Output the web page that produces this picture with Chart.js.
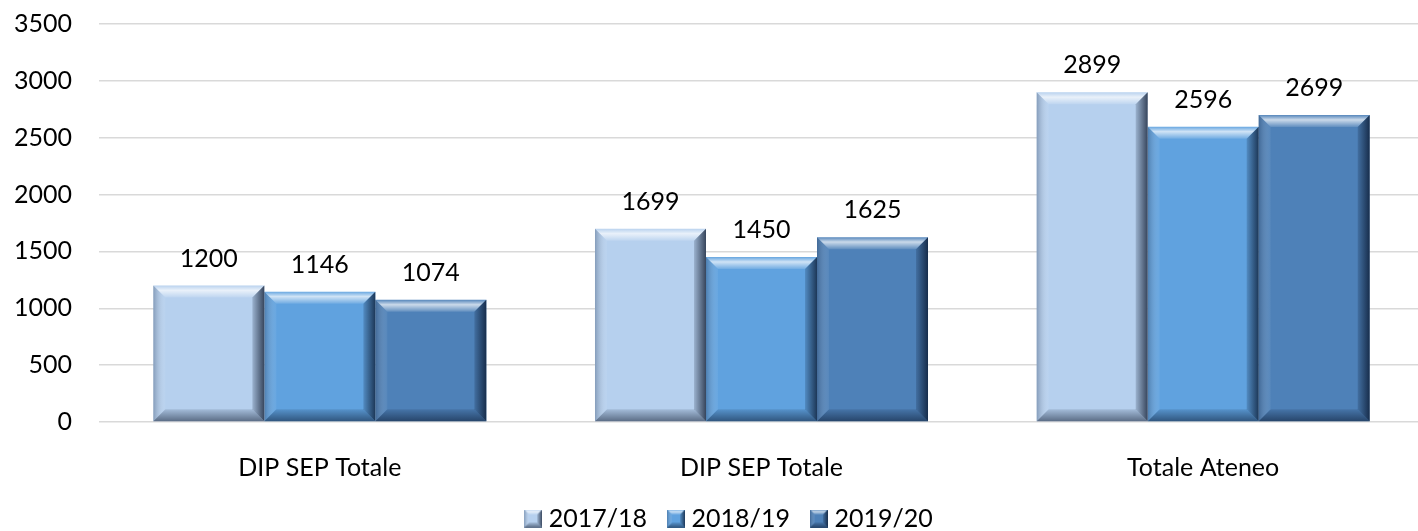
<!DOCTYPE html>
<html lang="en">
<head>
    <meta charset="UTF-8">
    <title>DIP SEP Totale</title>
    <script src="https://cdn.jsdelivr.net/npm/chart.js"></script>
    <style>
        html, body { margin: 0; padding: 0; background: #fff; overflow: hidden; }
        #wrap { width: 1418px; height: 531px; overflow: hidden; }
    </style>
</head>
<body>
    <div id="wrap">
        <canvas id="barChart" width="1424" height="541"></canvas>
    </div>

    <script>
        // chart data
        const categories = ['DIP SEP Totale', 'DIP SEP Totale', 'Totale Ateneo'];
        const seriesNames = ['2017/18', '2018/19', '2019/20'];
        const values1718 = [1200, 1699, 2899];
        const values1819 = [1146, 1450, 2596];
        const values1920 = [1074, 1625, 2699];
        const yTicks = [0, 500, 1000, 1500, 2000, 2500, 3000, 3500];

        const colors = ['#B6D0EE', '#60A2DF', '#4E81B8'];

        // paints the bevel over a rectangle
        function bevel(ctx, l, t, r, b, size) {
            const s = Math.min(size, (r - l) / 2, (b - t) / 2);
            let g;

            // top edge
            g = ctx.createLinearGradient(0, t, 0, t + s);
            g.addColorStop(0, 'rgba(255,255,255,0.05)');
            g.addColorStop(0.4, 'rgba(255,255,255,0.7)');
            g.addColorStop(1, 'rgba(255,255,255,0.1)');
            ctx.fillStyle = g;
            ctx.beginPath();
            ctx.moveTo(l, t); ctx.lineTo(r, t); ctx.lineTo(r - s, t + s); ctx.lineTo(l + s, t + s);
            ctx.closePath(); ctx.fill();

            // left edge
            g = ctx.createLinearGradient(l, 0, l + s, 0);
            g.addColorStop(0, 'rgba(40,60,90,0.35)');
            g.addColorStop(1, 'rgba(255,255,255,0.05)');
            ctx.fillStyle = g;
            ctx.beginPath();
            ctx.moveTo(l, t); ctx.lineTo(l + s, t + s); ctx.lineTo(l + s, b - s); ctx.lineTo(l, b);
            ctx.closePath(); ctx.fill();

            // right edge
            g = ctx.createLinearGradient(r - s, 0, r, 0);
            g.addColorStop(0, 'rgba(0,10,30,0.15)');
            g.addColorStop(1, 'rgba(0,10,30,0.7)');
            ctx.fillStyle = g;
            ctx.beginPath();
            ctx.moveTo(r, t); ctx.lineTo(r, b); ctx.lineTo(r - s, b - s); ctx.lineTo(r - s, t + s);
            ctx.closePath(); ctx.fill();

            // bottom edge
            g = ctx.createLinearGradient(0, b - s, 0, b);
            g.addColorStop(0, 'rgba(0,10,30,0.1)');
            g.addColorStop(1, 'rgba(0,10,30,0.5)');
            ctx.fillStyle = g;
            ctx.beginPath();
            ctx.moveTo(l, b); ctx.lineTo(l + s, b - s); ctx.lineTo(r - s, b - s); ctx.lineTo(r, b);
            ctx.closePath(); ctx.fill();
        }

        // small beveled squares for the legend
        function legendBox(color) {
            const c = document.createElement('canvas');
            c.width = 18; c.height = 18;
            const x = c.getContext('2d');
            x.fillStyle = color;
            x.fillRect(0, 0, 18, 18);
            bevel(x, 0, 0, 18, 18, 5);
            return c;
        }

        const bevelPlugin = {
            id: 'bevel',
            afterDatasetsDraw(chart) {
                const ctx = chart.ctx;
                ctx.save();
                chart.data.datasets.forEach((ds, i) => {
                    chart.getDatasetMeta(i).data.forEach(el => {
                        const p = el.getProps(['x', 'y', 'base', 'width'], true);
                        bevel(ctx, p.x - p.width / 2, p.y, p.x + p.width / 2, p.base, 12);
                    });
                });
                ctx.restore();
            }
        };

        const valueLabels = {
            id: 'valueLabels',
            afterDatasetsDraw(chart) {
                const ctx = chart.ctx;
                ctx.save();
                ctx.font = '25px Lato, "Open Sans", sans-serif';
                ctx.fillStyle = '#000';
                ctx.textAlign = 'center';
                ctx.textBaseline = 'alphabetic';
                chart.data.datasets.forEach((ds, i) => {
                    chart.getDatasetMeta(i).data.forEach((el, j) => {
                        const p = el.getProps(['x', 'y'], true);
                        ctx.fillText(ds.data[j], p.x, p.y - 19);
                    });
                });
                ctx.restore();
            }
        };

        // nudge the legend a little to the left, like the original
        const legendShift = {
            id: 'legendShift',
            afterLayout(chart) {
                chart.legend.left -= 30;
                chart.legend.right -= 30;
            }
        };

        Chart.defaults.font.family = 'Lato, "Open Sans", sans-serif';
        Chart.defaults.font.size = 25;
        Chart.defaults.color = '#000';

        const allValues = [values1718, values1819, values1920];

        const ctx = document.getElementById('barChart').getContext('2d');
        const chart = new Chart(ctx, {
            type: 'bar',
            data: {
                labels: categories,
                datasets: seriesNames.map((name, i) => ({
                    label: name,
                    data: allValues[i],
                    backgroundColor: colors[i],
                    borderWidth: 0,
                    pointStyle: legendBox(colors[i]),
                    categoryPercentage: 0.754,
                    barPercentage: 1.0
                }))
            },
            options: {
                responsive: false,
                animation: false,
                layout: { padding: { top: 24, left: 0, right: 0, bottom: 0 } },
                plugins: {
                    tooltip: { enabled: false },
                    legend: {
                        position: 'bottom',
                        fullSize: false,
                        labels: {
                            usePointStyle: true,
                            pointStyleWidth: 6,
                            boxHeight: 18,
                            padding: 26,
                            font: { size: 25 }
                        }
                    }
                },
                scales: {
                    x: {
                        grid: { display: false },
                        border: { display: false },
                        ticks: { padding: 23 },
                        afterFit: s => { s.height = 58; }
                    },
                    y: {
                        min: 0,
                        max: 3500,
                        afterBuildTicks: s => { s.ticks = yTicks.map(v => ({ value: v })); },
                        grid: { color: '#D9D9D9', lineWidth: 1.4, drawTicks: false },
                        border: { display: false },
                        ticks: { padding: 27, callback: v => String(v) },
                        afterFit: s => {
                            s.width = 99;
                            s.paddingTop = 16;
                            s.paddingBottom = 0;
                        }
                    }
                }
            },
            plugins: [bevelPlugin, valueLabels, legendShift]
        });
    </script>
</body>
</html>
